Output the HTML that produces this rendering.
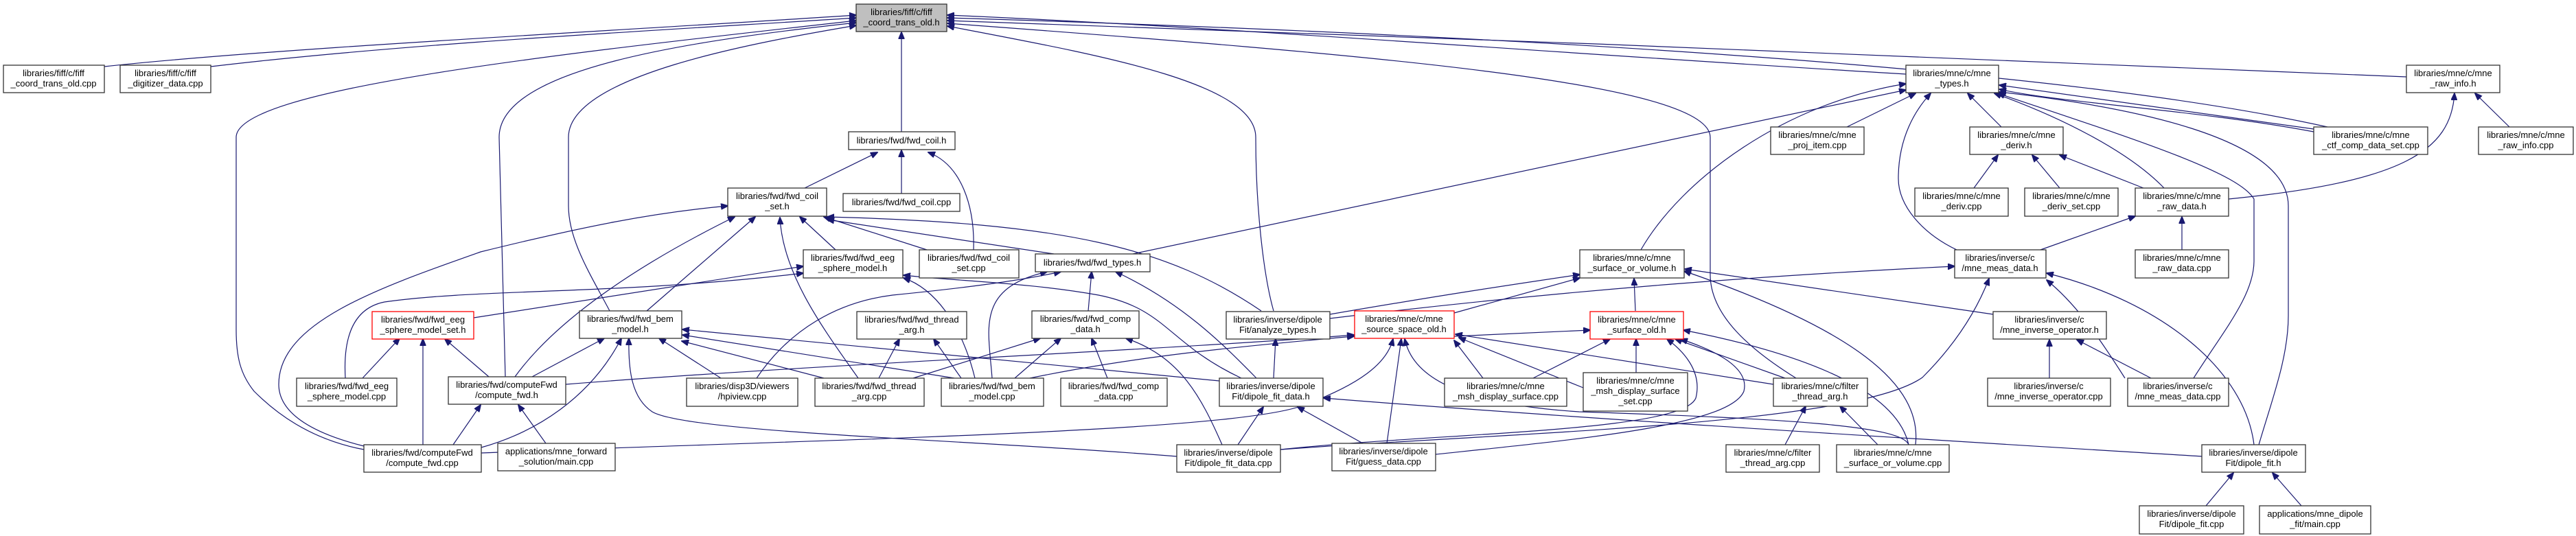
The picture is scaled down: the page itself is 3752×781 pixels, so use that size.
<!DOCTYPE html>
<html><head><meta charset="utf-8"><style>
html,body{margin:0;padding:0;background:#fff;}
svg{display:block;}
text{font-family:"Liberation Sans",Arial,sans-serif;font-size:13px;fill:#000;}
.e{fill:none;stroke:#191970;stroke-width:1.2;}
rect{fill:#fff;stroke:#333;stroke-width:1.3;}
rect.g{fill:#bfbfbf;}
rect.r{stroke:#ff0000;}
</style></head><body>
<svg width="3752" height="781" viewBox="0 0 3752 781" xmlns="http://www.w3.org/2000/svg">
<defs><marker id="a" markerWidth="11" markerHeight="9" refX="10" refY="4.5" orient="auto" markerUnits="userSpaceOnUse"><path d="M0,0 L11,4.5 L0,9 z" fill="#191970" stroke="#191970"/></marker></defs>
<g class="edges" marker-end="url(#a)">
<path class="e" marker-end="url(#a)" d="M152,97 C400,70 900,45 1247,22"/>
<path class="e" marker-end="url(#a)" d="M307,97 C600,62 1000,42 1247,26"/>
<path class="e" marker-end="url(#a)" d="M530,655 C450,640 400,600 370,570 C350,545 344,520 344,480 L344,200 C344,130 800,80 1247,30"/>
<path class="e" marker-end="url(#a)" d="M736,549 L727,200 C727,100 1000,60 1247,33"/>
<path class="e" marker-end="url(#a)" d="M888,453 C860,400 828,350 828,300 L828,200 C828,110 1100,62 1247,37"/>
<path class="e" marker-end="url(#a)" d="M1313,192 L1313,47"/>
<path class="e" marker-end="url(#a)" d="M1855,453 C1840,400 1829,300 1829,200 C1829,120 1600,80 1380,38"/>
<path class="e" marker-end="url(#a)" d="M2776,108 C2300,80 1800,40 1380,22"/>
<path class="e" marker-end="url(#a)" d="M3390,185 C3100,120 2500,60 1380,26"/>
<path class="e" marker-end="url(#a)" d="M3505,112 C3000,90 2000,50 1380,30"/>
<path class="e" marker-end="url(#a)" d="M2616,551 C2550,510 2491,460 2491,400 L2491,200 C2491,120 2000,80 1380,34"/>
<path class="e" marker-end="url(#a)" d="M1172,274 L1278,222"/>
<path class="e" marker-end="url(#a)" d="M1313,282 L1313,219"/>
<path class="e" marker-end="url(#a)" d="M1418,364 C1420,300 1400,240 1352,222"/>
<path class="e" marker-end="url(#a)" d="M530,650 C450,630 406,600 406,560 C406,470 550,420 700,367 C850,330 950,310 1060,300"/>
<path class="e" marker-end="url(#a)" d="M750,549 C800,480 900,400 1070,316"/>
<path class="e" marker-end="url(#a)" d="M942,453 L1100,316"/>
<path class="e" marker-end="url(#a)" d="M1250,551 C1200,480 1140,400 1136,317"/>
<path class="e" marker-end="url(#a)" d="M1217,364 L1165,316"/>
<path class="e" marker-end="url(#a)" d="M1350,364 L1200,316"/>
<path class="e" marker-end="url(#a)" d="M1837,453 C1700,360 1550,325 1205,316"/>
<path class="e" marker-end="url(#a)" d="M1535,370 L1205,320"/>
<path class="e" marker-end="url(#a)" d="M690,463 L1170,388"/>
<path class="e" marker-end="url(#a)" d="M503,551 C500,500 510,450 560,440 C700,420 900,430 1170,398"/>
<path class="e" marker-end="url(#a)" d="M1420,551 C1400,470 1360,420 1316,405"/>
<path class="e" marker-end="url(#a)" d="M1808,551 C1700,500 1700,450 1600,430 C1500,412 1400,410 1316,401"/>
<path class="e" marker-end="url(#a)" d="M1445,551 C1440,480 1420,420 1525,396"/>
<path class="e" marker-end="url(#a)" d="M1102,551 C1150,480 1220,440 1300,430 C1400,420 1480,410 1545,396"/>
<path class="e" marker-end="url(#a)" d="M1585,453 L1590,396"/>
<path class="e" marker-end="url(#a)" d="M1830,551 C1780,500 1720,440 1625,396"/>
<path class="e" marker-end="url(#a)" d="M528,551 L582,493"/>
<path class="e" marker-end="url(#a)" d="M616,648 L616,494"/>
<path class="e" marker-end="url(#a)" d="M712,549 L648,494"/>
<path class="e" marker-end="url(#a)" d="M775,549 L880,493"/>
<path class="e" marker-end="url(#a)" d="M701,652 C780,630 860,580 905,493"/>
<path class="e" marker-end="url(#a)" d="M1050,551 L960,493"/>
<path class="e" marker-end="url(#a)" d="M1200,551 L993,497"/>
<path class="e" marker-end="url(#a)" d="M1714,665 C1400,640 1000,630 950,600 C920,580 915,540 916,493"/>
<path class="e" marker-end="url(#a)" d="M1776,555 L994,480"/>
<path class="e" marker-end="url(#a)" d="M1390,551 L994,488"/>
<path class="e" marker-end="url(#a)" d="M1280,551 L1310,494"/>
<path class="e" marker-end="url(#a)" d="M1400,551 L1360,494"/>
<path class="e" marker-end="url(#a)" d="M660,648 L700,590"/>
<path class="e" marker-end="url(#a)" d="M795,646 L755,590"/>
<path class="e" marker-end="url(#a)" d="M824,560 C1200,530 1700,510 1972,488"/>
<path class="e" marker-end="url(#a)" d="M1330,551 L1515,493"/>
<path class="e" marker-end="url(#a)" d="M1478,551 L1545,493"/>
<path class="e" marker-end="url(#a)" d="M1613,551 L1590,493"/>
<path class="e" marker-end="url(#a)" d="M1780,648 C1750,580 1720,520 1640,493"/>
<path class="e" marker-end="url(#a)" d="M1855,551 L1858,494"/>
<path class="e" marker-end="url(#a)" d="M1937,458 C2100,430 2200,415 2301,400"/>
<path class="e" marker-end="url(#a)" d="M1937,464 C2300,420 2600,400 2847,388"/>
<path class="e" marker-end="url(#a)" d="M2118,456 L2301,405"/>
<path class="e" marker-end="url(#a)" d="M2118,490 L2316,481"/>
<path class="e" marker-end="url(#a)" d="M1500,551 C1650,520 1800,505 1972,490"/>
<path class="e" marker-end="url(#a)" d="M2160,551 L2118,496"/>
<path class="e" marker-end="url(#a)" d="M2306,565 L2125,492"/>
<path class="e" marker-end="url(#a)" d="M2583,560 L2120,487"/>
<path class="e" marker-end="url(#a)" d="M701,660 C1200,640 1800,630 1900,590 C1980,560 2020,530 2029,494"/>
<path class="e" marker-end="url(#a)" d="M2020,646 L2041,494"/>
<path class="e" marker-end="url(#a)" d="M2780,648 C2770,620 2600,610 2300,600 C2150,590 2060,560 2046,494"/>
<path class="e" marker-end="url(#a)" d="M2382,453 L2380,406"/>
<path class="e" marker-end="url(#a)" d="M2790,648 C2800,560 2700,480 2453,395"/>
<path class="e" marker-end="url(#a)" d="M2903,458 L2454,392"/>
<path class="e" marker-end="url(#a)" d="M2390,364 C2450,260 2600,150 2776,122"/>
<path class="e" marker-end="url(#a)" d="M1650,370 L2776,131"/>
<path class="e" marker-end="url(#a)" d="M2233,551 L2345,494"/>
<path class="e" marker-end="url(#a)" d="M2383,543 L2383,494"/>
<path class="e" marker-end="url(#a)" d="M2600,551 L2440,494"/>
<path class="e" marker-end="url(#a)" d="M2780,648 C2760,560 2600,510 2452,481"/>
<path class="e" marker-end="url(#a)" d="M1865,655 C2100,630 2450,630 2470,580 C2480,540 2450,510 2428,494"/>
<path class="e" marker-end="url(#a)" d="M2091,662 C2300,640 2520,620 2540,570 C2550,530 2480,505 2448,494"/>
<path class="e" marker-end="url(#a)" d="M2600,648 L2630,592"/>
<path class="e" marker-end="url(#a)" d="M2735,648 L2680,592"/>
<path class="e" marker-end="url(#a)" d="M3207,665 C2800,640 2300,610 1928,580"/>
<path class="e" marker-end="url(#a)" d="M1865,655 C2200,630 2700,620 2800,550 C2850,500 2880,450 2897,406"/>
<path class="e" marker-end="url(#a)" d="M2690,185 L2790,136"/>
<path class="e" marker-end="url(#a)" d="M2915,185 L2866,136"/>
<path class="e" marker-end="url(#a)" d="M3152,274 C3100,220 3000,170 2905,136"/>
<path class="e" marker-end="url(#a)" d="M3195,551 C3240,480 3283,430 3283,380 L3283,290 C3260,250 3100,200 2910,136"/>
<path class="e" marker-end="url(#a)" d="M3290,648 C3310,580 3333,520 3333,460 L3333,300 C3333,200 3100,155 2912,134"/>
<path class="e" marker-end="url(#a)" d="M3370,188 L2912,124"/>
<path class="e" marker-end="url(#a)" d="M3370,192 C3200,160 3000,150 2912,130"/>
<path class="e" marker-end="url(#a)" d="M2850,364 C2800,340 2765,300 2765,260 C2765,200 2790,160 2812,136"/>
<path class="e" marker-end="url(#a)" d="M2875,274 L2910,226"/>
<path class="e" marker-end="url(#a)" d="M3000,274 L2960,226"/>
<path class="e" marker-end="url(#a)" d="M3122,274 L3000,226"/>
<path class="e" marker-end="url(#a)" d="M3178,364 L3178,316"/>
<path class="e" marker-end="url(#a)" d="M2972,364 L3110,315"/>
<path class="e" marker-end="url(#a)" d="M3246,290 C3500,265 3570,220 3575,136"/>
<path class="e" marker-end="url(#a)" d="M3655,185 L3605,136"/>
<path class="e" marker-end="url(#a)" d="M3095,551 C3050,480 3020,440 2981,408"/>
<path class="e" marker-end="url(#a)" d="M3283,648 C3270,540 3150,440 2981,398"/>
<path class="e" marker-end="url(#a)" d="M2985,551 L2985,495"/>
<path class="e" marker-end="url(#a)" d="M3133,551 L3025,495"/>
<path class="e" marker-end="url(#a)" d="M3213,737 L3253,689"/>
<path class="e" marker-end="url(#a)" d="M3352,737 L3310,689"/>
<path class="e" marker-end="url(#a)" d="M1803,648 L1840,593"/>
<path class="e" marker-end="url(#a)" d="M1985,646 L1890,593"/>
</g>
<g>
<rect class="g" x="1247" y="6" width="132" height="40"/><text x="1313" y="22" text-anchor="middle">libraries/fiff/c/fiff</text><text x="1313" y="37" text-anchor="middle">_coord_trans_old.h</text>
<rect x="5" y="95" width="147" height="40"/><text x="78" y="111" text-anchor="middle">libraries/fiff/c/fiff</text><text x="78" y="126" text-anchor="middle">_coord_trans_old.cpp</text>
<rect x="175" y="95" width="132" height="40"/><text x="241" y="111" text-anchor="middle">libraries/fiff/c/fiff</text><text x="241" y="126" text-anchor="middle">_digitizer_data.cpp</text>
<rect x="1236" y="192" width="155" height="26"/><text x="1313" y="209" text-anchor="middle">libraries/fwd/fwd_coil.h</text>
<rect x="1060" y="274" width="144" height="41"/><text x="1132" y="290" text-anchor="middle">libraries/fwd/fwd_coil</text><text x="1132" y="305" text-anchor="middle">_set.h</text>
<rect x="1228" y="282" width="170" height="26"/><text x="1313" y="299" text-anchor="middle">libraries/fwd/fwd_coil.cpp</text>
<rect x="1170" y="364" width="145" height="41"/><text x="1242" y="380" text-anchor="middle">libraries/fwd/fwd_eeg</text><text x="1242" y="395" text-anchor="middle">_sphere_model.h</text>
<rect x="1339" y="364" width="145" height="41"/><text x="1411" y="380" text-anchor="middle">libraries/fwd/fwd_coil</text><text x="1411" y="395" text-anchor="middle">_set.cpp</text>
<rect x="1508" y="370" width="167" height="26"/><text x="1591" y="387" text-anchor="middle">libraries/fwd/fwd_types.h</text>
<rect class="r" x="542" y="454" width="148" height="40"/><text x="616" y="470" text-anchor="middle">libraries/fwd/fwd_eeg</text><text x="616" y="485" text-anchor="middle">_sphere_model_set.h</text>
<rect x="844" y="453" width="149" height="40"/><text x="918" y="469" text-anchor="middle">libraries/fwd/fwd_bem</text><text x="918" y="484" text-anchor="middle">_model.h</text>
<rect x="1248" y="454" width="160" height="40"/><text x="1328" y="470" text-anchor="middle">libraries/fwd/fwd_thread</text><text x="1328" y="485" text-anchor="middle">_arg.h</text>
<rect x="1503" y="453" width="156" height="40"/><text x="1581" y="469" text-anchor="middle">libraries/fwd/fwd_comp</text><text x="1581" y="484" text-anchor="middle">_data.h</text>
<rect x="1786" y="454" width="151" height="40"/><text x="1861" y="470" text-anchor="middle">libraries/inverse/dipole</text><text x="1861" y="485" text-anchor="middle">Fit/analyze_types.h</text>
<rect class="r" x="1973" y="453" width="145" height="40"/><text x="2045" y="469" text-anchor="middle">libraries/mne/c/mne</text><text x="2045" y="484" text-anchor="middle">_source_space_old.h</text>
<rect x="432" y="551" width="146" height="41"/><text x="505" y="567" text-anchor="middle">libraries/fwd/fwd_eeg</text><text x="505" y="582" text-anchor="middle">_sphere_model.cpp</text>
<rect x="653" y="549" width="171" height="40"/><text x="738" y="565" text-anchor="middle">libraries/fwd/computeFwd</text><text x="738" y="580" text-anchor="middle">/compute_fwd.h</text>
<rect x="1000" y="551" width="162" height="41"/><text x="1081" y="567" text-anchor="middle">libraries/disp3D/viewers</text><text x="1081" y="582" text-anchor="middle">/hpiview.cpp</text>
<rect x="1187" y="551" width="159" height="41"/><text x="1266" y="567" text-anchor="middle">libraries/fwd/fwd_thread</text><text x="1266" y="582" text-anchor="middle">_arg.cpp</text>
<rect x="1371" y="551" width="149" height="41"/><text x="1445" y="567" text-anchor="middle">libraries/fwd/fwd_bem</text><text x="1445" y="582" text-anchor="middle">_model.cpp</text>
<rect x="1545" y="551" width="155" height="41"/><text x="1622" y="567" text-anchor="middle">libraries/fwd/fwd_comp</text><text x="1622" y="582" text-anchor="middle">_data.cpp</text>
<rect x="1776" y="551" width="151" height="41"/><text x="1851" y="567" text-anchor="middle">libraries/inverse/dipole</text><text x="1851" y="582" text-anchor="middle">Fit/dipole_fit_data.h</text>
<rect x="530" y="648" width="171" height="40"/><text x="615" y="664" text-anchor="middle">libraries/fwd/computeFwd</text><text x="615" y="679" text-anchor="middle">/compute_fwd.cpp</text>
<rect x="725" y="646" width="171" height="40"/><text x="810" y="662" text-anchor="middle">applications/mne_forward</text><text x="810" y="677" text-anchor="middle">_solution/main.cpp</text>
<rect x="1714" y="648" width="151" height="40"/><text x="1789" y="664" text-anchor="middle">libraries/inverse/dipole</text><text x="1789" y="679" text-anchor="middle">Fit/dipole_fit_data.cpp</text>
<rect x="1940" y="646" width="151" height="40"/><text x="2015" y="662" text-anchor="middle">libraries/inverse/dipole</text><text x="2015" y="677" text-anchor="middle">Fit/guess_data.cpp</text>
<rect x="2776" y="95" width="135" height="40"/><text x="2843" y="111" text-anchor="middle">libraries/mne/c/mne</text><text x="2843" y="126" text-anchor="middle">_types.h</text>
<rect x="2579" y="185" width="136" height="40"/><text x="2647" y="201" text-anchor="middle">libraries/mne/c/mne</text><text x="2647" y="216" text-anchor="middle">_proj_item.cpp</text>
<rect x="2301" y="364" width="152" height="41"/><text x="2377" y="380" text-anchor="middle">libraries/mne/c/mne</text><text x="2377" y="395" text-anchor="middle">_surface_or_volume.h</text>
<rect class="r" x="2316" y="454" width="136" height="40"/><text x="2384" y="470" text-anchor="middle">libraries/mne/c/mne</text><text x="2384" y="485" text-anchor="middle">_surface_old.h</text>
<rect x="2104" y="551" width="178" height="41"/><text x="2193" y="567" text-anchor="middle">libraries/mne/c/mne</text><text x="2193" y="582" text-anchor="middle">_msh_display_surface.cpp</text>
<rect x="2306" y="543" width="152" height="56"/><text x="2382" y="559" text-anchor="middle">libraries/mne/c/mne</text><text x="2382" y="574" text-anchor="middle">_msh_display_surface</text><text x="2382" y="589" text-anchor="middle">_set.cpp</text>
<rect x="2583" y="551" width="137" height="41"/><text x="2651" y="567" text-anchor="middle">libraries/mne/c/filter</text><text x="2651" y="582" text-anchor="middle">_thread_arg.h</text>
<rect x="2514" y="648" width="136" height="40"/><text x="2582" y="664" text-anchor="middle">libraries/mne/c/filter</text><text x="2582" y="679" text-anchor="middle">_thread_arg.cpp</text>
<rect x="2675" y="648" width="164" height="40"/><text x="2757" y="664" text-anchor="middle">libraries/mne/c/mne</text><text x="2757" y="679" text-anchor="middle">_surface_or_volume.cpp</text>
<rect x="2869" y="185" width="136" height="40"/><text x="2937" y="201" text-anchor="middle">libraries/mne/c/mne</text><text x="2937" y="216" text-anchor="middle">_deriv.h</text>
<rect x="3370" y="185" width="166" height="40"/><text x="3453" y="201" text-anchor="middle">libraries/mne/c/mne</text><text x="3453" y="216" text-anchor="middle">_ctf_comp_data_set.cpp</text>
<rect x="3505" y="95" width="136" height="40"/><text x="3573" y="111" text-anchor="middle">libraries/mne/c/mne</text><text x="3573" y="126" text-anchor="middle">_raw_info.h</text>
<rect x="3610" y="185" width="138" height="40"/><text x="3679" y="201" text-anchor="middle">libraries/mne/c/mne</text><text x="3679" y="216" text-anchor="middle">_raw_info.cpp</text>
<rect x="2789" y="274" width="136" height="41"/><text x="2857" y="290" text-anchor="middle">libraries/mne/c/mne</text><text x="2857" y="305" text-anchor="middle">_deriv.cpp</text>
<rect x="2949" y="274" width="136" height="41"/><text x="3017" y="290" text-anchor="middle">libraries/mne/c/mne</text><text x="3017" y="305" text-anchor="middle">_deriv_set.cpp</text>
<rect x="3110" y="274" width="136" height="41"/><text x="3178" y="290" text-anchor="middle">libraries/mne/c/mne</text><text x="3178" y="305" text-anchor="middle">_raw_data.h</text>
<rect x="2847" y="364" width="133" height="41"/><text x="2913" y="380" text-anchor="middle">libraries/inverse/c</text><text x="2913" y="395" text-anchor="middle">/mne_meas_data.h</text>
<rect x="3110" y="364" width="136" height="41"/><text x="3178" y="380" text-anchor="middle">libraries/mne/c/mne</text><text x="3178" y="395" text-anchor="middle">_raw_data.cpp</text>
<rect x="2903" y="454" width="165" height="40"/><text x="2985" y="470" text-anchor="middle">libraries/inverse/c</text><text x="2985" y="485" text-anchor="middle">/mne_inverse_operator.h</text>
<rect x="2895" y="551" width="179" height="41"/><text x="2984" y="567" text-anchor="middle">libraries/inverse/c</text><text x="2984" y="582" text-anchor="middle">/mne_inverse_operator.cpp</text>
<rect x="3099" y="551" width="147" height="41"/><text x="3172" y="567" text-anchor="middle">libraries/inverse/c</text><text x="3172" y="582" text-anchor="middle">/mne_meas_data.cpp</text>
<rect x="3207" y="648" width="151" height="40"/><text x="3282" y="664" text-anchor="middle">libraries/inverse/dipole</text><text x="3282" y="679" text-anchor="middle">Fit/dipole_fit.h</text>
<rect x="3116" y="737" width="152" height="41"/><text x="3192" y="753" text-anchor="middle">libraries/inverse/dipole</text><text x="3192" y="768" text-anchor="middle">Fit/dipole_fit.cpp</text>
<rect x="3291" y="737" width="162" height="41"/><text x="3372" y="753" text-anchor="middle">applications/mne_dipole</text><text x="3372" y="768" text-anchor="middle">_fit/main.cpp</text>
</g>
</svg>
</body></html>
